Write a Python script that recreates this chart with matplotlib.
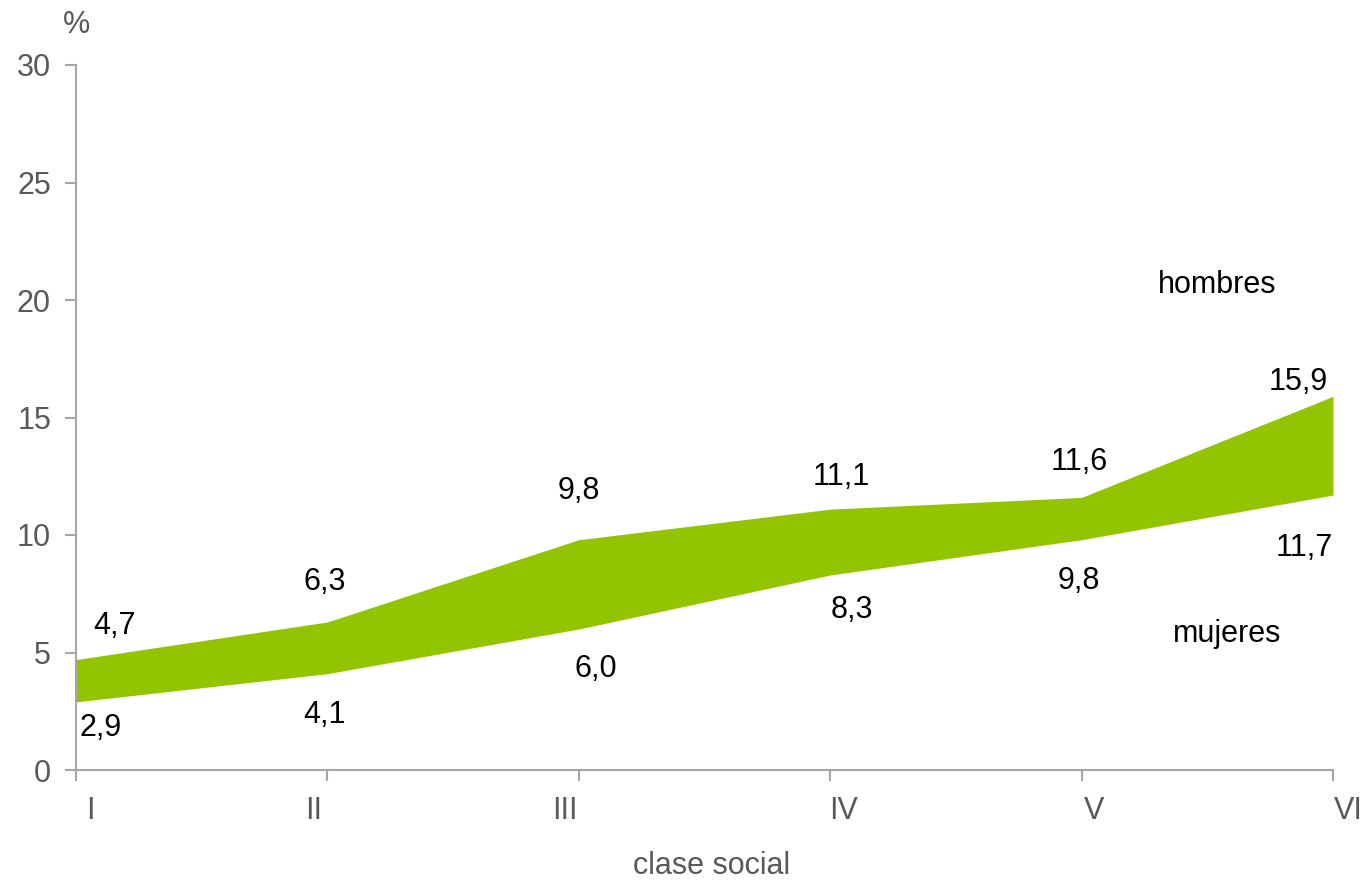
import matplotlib.pyplot as plt
import matplotlib.transforms as mtransforms

plt.rcParams['font.family'] = ['Liberation Sans', 'DejaVu Sans']

# data
clases = ['I', 'II', 'III', 'IV', 'V', 'VI']
hombres = [4.7, 6.3, 9.8, 11.1, 11.6, 15.9]
mujeres = [2.9, 4.1, 6.0, 8.3, 9.8, 11.7]

x = list(range(len(clases)))
green = '#92C500'
grey_txt = '#595959'
grey_ax = '#A6A6A6'
fs = 22

fig = plt.figure(figsize=(13.64, 8.84), dpi=100)
ax = fig.add_axes([76/1364, 114/884, (1333-76)/1364, (770-65)/884])

ax.fill_between(x, mujeres, hombres, color=green, linewidth=0)

ax.set_xlim(0, len(clases) - 1)
ax.set_ylim(0, 30)
ax.set_yticks(range(0, 31, 5))
ax.set_xticks(x)
ax.set_xticklabels(clases)

for side in ['top', 'right']:
    ax.spines[side].set_visible(False)
for side in ['left', 'bottom']:
    ax.spines[side].set_color(grey_ax)
    ax.spines[side].set_linewidth(1.5)
ax.tick_params(axis='both', colors=grey_ax, width=1.5, length=8,
               labelcolor=grey_txt, labelsize=fs)
ax.tick_params(axis='x', pad=11)
ax.tick_params(axis='y', pad=10)

# excel-like shift of category labels
shifts = [14, -14, -14, 13, 12, 15]
for lab, dx in zip(ax.get_xticklabels(), shifts):
    lab.set_transform(lab.get_transform() +
                      mtransforms.ScaledTranslation(dx/100, 0, fig.dpi_scale_trans))

# value labels (offsets in points)
h_off = [(28, 24), (-2, 29), (0, 35), (8, 23.5), (-1.5, 25.5), (-25, 10)]
m_off = [(18, -19), (-2, -29.5), (12, -29), (15.5, -25), (-2, -30), (-20.5, -38)]
for i in x:
    ax.annotate(f'{hombres[i]:.1f}'.replace('.', ','), (i, hombres[i]),
                xytext=h_off[i], textcoords='offset points',
                ha='center', va='center', fontsize=fs, color='black')
    ax.annotate(f'{mujeres[i]:.1f}'.replace('.', ','), (i, mujeres[i]),
                xytext=m_off[i], textcoords='offset points',
                ha='center', va='center', fontsize=fs, color='black')

ax.text(4.54, 20.63, 'hombres', fontsize=fs, ha='center', va='center')
ax.text(4.58, 5.78, 'mujeres', fontsize=fs, ha='center', va='center')

fig.text(77/1364, 1 - 25/884, '%', fontsize=fs, color=grey_txt, ha='center', va='center')
fig.text(712/1364, 1 - 866/884, 'clase social', fontsize=fs, color=grey_txt,
         ha='center', va='center')

fig.savefig('out.png', dpi=100)
